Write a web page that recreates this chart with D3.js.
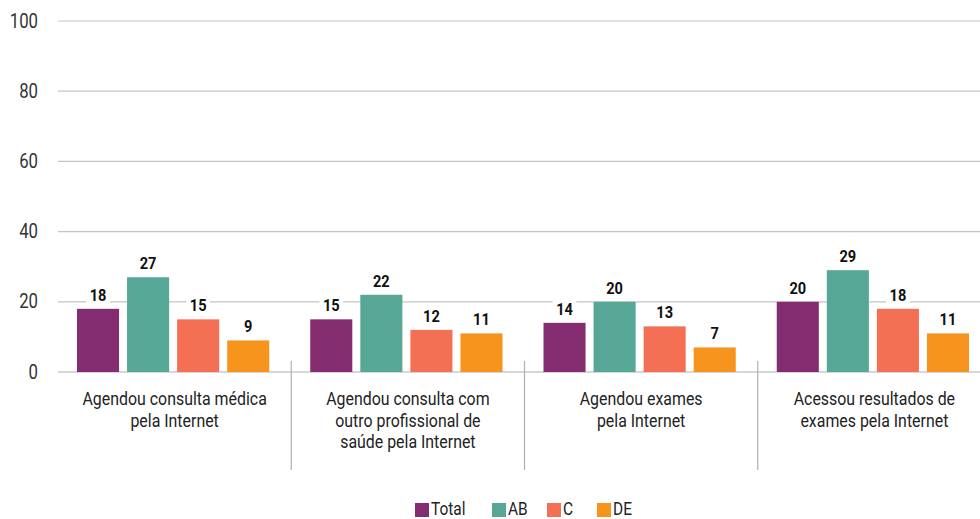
<!DOCTYPE html>
<html><head><meta charset="utf-8">
<script src="https://cdn.jsdelivr.net/npm/d3@7"></script>
<style>
body{margin:0;background:#fff;}
svg{display:block;}
text{font-family:Roboto,"Noto Sans",sans-serif;}
</style></head>
<body><svg id="c" width="980" height="519"></svg>
<script>
const categories = [
  ["Agendou consulta médica","pela Internet"],
  ["Agendou consulta com","outro profissional de","saúde pela Internet"],
  ["Agendou exames","pela Internet"],
  ["Acessou resultados de","exames pela Internet"]
];
const seriesNames = ["Total","AB","C","DE"];
const seriesColors = ["#832C6F","#56A796","#F37055","#F7941E"];
const total = [18,15,14,20];
const ab = [27,22,20,29];
const c = [15,12,13,18];
const de = [9,11,7,11];
const yTicks = [0,20,40,60,80,100];

const seriesValues = [total, ab, c, de];
const SX = 0.86;
const svg = d3.select("#c");
const x0 = d3.scaleBand().domain(d3.range(categories.length)).range([58,991]).paddingInner(0).paddingOuter(0);
const x1 = d3.scaleBand().domain(d3.range(seriesNames.length)).range([19, x0.bandwidth()-22]).paddingInner(0.16).paddingOuter(0);
const y = d3.scaleLinear().domain([0,100]).range([372,21]);

function ctext(parent, x, yy, str, opts){
  const g = parent.append("g").attr("transform",`translate(${x},${yy}) scale(${SX},1)`);
  const t = g.append("text").attr("x",0).attr("y",0)
    .attr("text-anchor",opts.anchor||"middle").attr("font-size",opts.size)
    .attr("font-weight",opts.weight||"normal").attr("fill",opts.fill||"#222").text(str);
  return {g,t};
}

// grid
svg.append("g").selectAll("line").data(yTicks).join("line")
  .attr("x1",58).attr("x2",980).attr("y1",d=>y(d)).attr("y2",d=>y(d))
  .attr("stroke",d=>d===0?"#b0b0b0":"#c4c4c4").attr("stroke-width",1.2);
const yl = svg.append("g");
yTicks.forEach(d=>ctext(yl,38,y(d)+6.5,d,{anchor:"end",size:19.5,fill:"#333"}));

// dividers
svg.append("g").selectAll("line").data(d3.range(1,categories.length)).join("line")
  .attr("x1",d=>x0(d)).attr("x2",d=>x0(d)).attr("y1",361).attr("y2",470)
  .attr("stroke","#b0b0b0").attr("stroke-width",1.2);

// bars
const bars = svg.append("g");
const labs = svg.append("g");
categories.forEach((cat,i)=>{
  seriesValues.forEach((vals,s)=>{
    const bx = x0(i)+x1(s);
    bars.append("rect").attr("x",bx).attr("y",y(vals[i])).attr("width",x1.bandwidth())
      .attr("height",y(0)-y(vals[i])).attr("fill",seriesColors[s]);
    const {g,t} = ctext(labs,bx+x1.bandwidth()/2,y(vals[i])-8,vals[i],{size:17,weight:"bold",fill:"#111"});
    const bb = t.node().getBBox();
    g.insert("rect","text").attr("x",bb.x-4).attr("y",bb.y+2).attr("width",bb.width+8).attr("height",bb.height-3).attr("fill","#fff");
  });
});

// category labels
const cl = svg.append("g");
categories.forEach((lines,i)=>{
  lines.forEach((l,j)=>ctext(cl,x0(i)+x0.bandwidth()/2,405+j*21.5,l,{size:18.5,fill:"#222"}));
});

// legend
const legX = [415,492,547,597];
const lg = svg.append("g");
seriesNames.forEach((n,s)=>{
  lg.append("rect").attr("x",legX[s]).attr("y",503).attr("width",14).attr("height",14).attr("fill",seriesColors[s]);
  ctext(lg,legX[s]+16,514.5,n,{anchor:"start",size:18,fill:"#222"});
});
</script></body></html>
